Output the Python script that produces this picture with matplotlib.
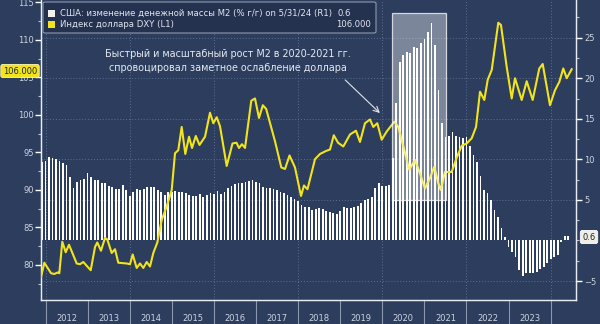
import numpy as np
import matplotlib
matplotlib.use("Agg")
import matplotlib.pyplot as plt
from matplotlib.patches import Rectangle, FancyBboxPatch

# M2 y/y growth, %, monthly, Nov 2011 .. May 2024 (right axis)
m2_yoy = [
    9.73, 9.86, 10.35, 10.15, 10.07, 9.86, 9.53, 9.32, 7.88, 6.52, 7.26, 7.47,
    7.55, 8.29, 7.80, 7.47, 7.47, 7.14, 7.06, 6.77, 6.65, 6.36, 6.36, 6.85,
    6.24, 5.54, 6.03, 6.36, 6.24, 6.36, 6.56, 6.56, 6.56, 6.24, 6.03, 5.62,
    5.95, 5.95, 6.15, 6.03, 5.95, 5.83, 5.62, 5.50, 5.50, 5.71,
    5.41, 5.62, 5.82, 5.70, 6.15, 5.70, 6.03, 6.44, 6.73, 6.93, 7.06, 7.14,
    7.26, 7.39, 7.47, 7.26, 7.06, 6.56, 6.44, 6.52, 6.31, 6.23, 6.03, 5.82,
    5.62, 5.41, 5.12, 4.92,
    4.38, 4.18, 4.10, 3.77, 3.85, 4.05, 3.85, 3.68, 3.56, 3.36, 3.27, 3.64,
    4.10, 3.97, 3.97, 4.10, 4.26, 4.67, 5.00, 5.12, 5.41, 6.44, 7.14, 6.73,
    6.73, 6.85,
    10.15, 16.9, 21.95, 22.9, 23.3, 23.1, 23.9, 23.7, 24.3, 24.8, 25.7, 26.8,
    24.1, 18.6, 14.5,
    12.8, 12.9, 13.4, 12.9, 12.8, 12.6, 12.7, 11.6, 10.55, 9.73, 7.96, 6.23,
    5.82, 5.0, 3.77, 2.86, 1.5, 0.4, -0.84, -1.38, -2.0, -3.64, -4.38, -4.05,
    -3.97, -3.97, -3.85, -3.56, -3.23, -2.82, -2.32, -2.0, -1.79, -0.15, 0.56, 0.56,
]
m2_t = 2011 + (11 + np.arange(len(m2_yoy))) / 12.0

# DXY index (left axis) as (year, value)
dxy_t = [
    2011.893, 2011.972, 2012.131, 2012.209, 2012.290, 2012.328, 2012.399, 2012.480,
    2012.558, 2012.741, 2012.819, 2012.898, 2012.993, 2013.074, 2013.176, 2013.230,
    2013.318, 2013.413, 2013.468, 2013.572, 2013.651, 2013.729, 2013.929, 2014.007,
    2014.071, 2014.166, 2014.245, 2014.323, 2014.404, 2014.482, 2014.561, 2014.656,
    2014.760, 2014.879, 2014.998, 2015.076, 2015.154, 2015.235, 2015.321, 2015.409,
    2015.480, 2015.570, 2015.658, 2015.789, 2015.907, 2015.986, 2016.067, 2016.145,
    2016.304, 2016.442, 2016.537, 2016.596, 2016.667, 2016.739, 2016.888, 2016.976,
    2017.071, 2017.162, 2017.242, 2017.451, 2017.601, 2017.689, 2017.796, 2017.926,
    2018.069, 2018.140, 2018.223, 2018.401, 2018.520, 2018.663, 2018.758, 2018.848,
    2018.948, 2019.074, 2019.233, 2019.375, 2019.470, 2019.589, 2019.708, 2019.786,
    2019.881, 2019.986, 2020.105, 2020.285, 2020.380, 2020.499, 2020.641, 2020.777,
    2020.895, 2021.014, 2021.133, 2021.235, 2021.330, 2021.387, 2021.489, 2021.648,
    2021.767, 2021.886, 2022.005, 2022.124, 2022.226, 2022.321, 2022.423, 2022.504,
    2022.599, 2022.755, 2022.819, 2022.955, 2023.074, 2023.152, 2023.311, 2023.430,
    2023.572, 2023.729, 2023.810, 2023.983, 2024.102, 2024.204, 2024.299, 2024.380,
    2024.499,
]
dxy_v = [
    78.4, 80.3, 78.9, 78.8, 79.0, 78.9, 83.1, 81.7,
    82.7, 80.2, 80.1, 80.4, 79.8, 79.3, 82.4, 83.0,
    81.9, 83.6, 83.4, 81.6, 82.1, 80.3, 80.2, 80.1,
    81.4, 79.6, 80.2, 79.6, 80.4, 79.8, 81.6, 83.0,
    86.0, 87.8, 90.0, 94.9, 95.3, 98.4, 94.8, 97.1,
    95.6, 97.2, 96.0, 97.1, 100.3, 98.9, 99.7, 98.5,
    93.2, 96.2, 96.3, 95.6, 96.1, 95.6, 101.9, 102.2,
    99.6, 101.3, 100.8, 96.5, 93.0, 92.8, 94.6, 93.0,
    89.2, 90.6, 90.1, 94.1, 94.8, 95.2, 95.4, 97.3,
    96.3, 95.8, 97.4, 97.9, 96.4, 98.9, 99.4, 98.4,
    98.9, 96.7, 97.8, 99.1, 98.4, 95.8, 92.7, 94.0,
    92.2, 90.2, 91.6, 93.1, 90.9, 90.0, 92.4, 92.4,
    94.3, 95.9, 96.2, 96.9, 98.4, 103.1, 102.0, 104.7,
    106.0, 112.3, 112.0, 106.4, 102.2, 104.9, 102.0, 104.5,
    102.0, 106.2, 106.8, 101.3, 103.3, 104.4, 106.2, 104.9,
    106.1,
]

years = list(range(2012, 2025))
year_labels = [str(y) for y in range(2012, 2024)]

BG = "#2d3d5e"
TXT = "#cdd4df"
YEL = "#f2e41c"

fig = plt.figure(figsize=(6, 3.24), dpi=100, facecolor=BG)
ax = fig.add_axes([41 / 600, 24 / 324, 535 / 600, 300 / 324])
ax2 = ax.twinx()
ax.set_zorder(2)
ax2.set_zorder(1)
ax.patch.set_visible(False)
ax2.patch.set_visible(False)

# right axis: bars
ax2.set_ylim(-7.34, 29.65)
ax2.set_yticks([-5, 5, 10, 15, 20, 25])
ax2.set_yticks(np.arange(-5, 30, 2.5), minor=True)
ax2.grid(True, axis="y", which="major", color="#5d6f90", ls=(0, (1, 2)), lw=0.7)
ax2.set_axisbelow(True)
for y in range(2012, 2025, 2):
    ax2.axvline(y, color="#5d6f90", ls=(0, (1, 2)), lw=0.7, zorder=0.5)
ax2.bar(m2_t, m2_yoy, width=0.042, color="white", zorder=2)

# left axis: DXY
ax.set_xlim(2011.893, 2024.601)
ax.set_ylim(75.33, 115.33)
ax.set_yticks(range(80, 116, 5))
ax.set_yticks(np.arange(77.5, 115, 2.5), minor=True)
ax.plot(dxy_t, dxy_v, color=YEL, lw=1.5, zorder=3)

# highlight box 2020-2021
ax.add_patch(Rectangle((2020.23, 5.0), 1.28, 23.1, transform=ax2.transData,
                       facecolor=(1, 1, 1, 0.38), edgecolor=(1, 1, 1, 0.75),
                       lw=0.9, zorder=4))

ax.annotate("", xy=(2019.99, 100.0), xytext=(2019.07, 104.93),
            arrowprops=dict(arrowstyle="->", color="#dfe4ec", lw=0.8), zorder=5)
fig.text(228 / 600, 1 - 61 / 324,
         "Быстрый и масштабный рост M2 в 2020-2021 гг.\nспровоцировал заметное ослабление доллара",
         ha="center", va="center", fontsize=6.9, color="#e6eaf0", linespacing=1.5)

# x axis: year separators + centred labels
ax.set_xticks(years)
ax.set_xticklabels([])
ax.set_xticks([y + 0.5 for y in range(2012, 2024)], minor=True)
ax.set_xticklabels(year_labels, minor=True)
ax.tick_params(axis="x", which="major", length=17, width=0.8, color="#8a97ad", direction="out")
ax.tick_params(axis="x", which="minor", length=0, labelsize=6, labelcolor=TXT, pad=10)

ax.tick_params(axis="y", which="major", length=4, width=1, color="white",
               labelsize=6, labelcolor=TXT, pad=1)
ax.tick_params(axis="y", which="minor", length=2, width=0.8, color="#b8c2d2")
ax2.tick_params(axis="y", which="major", length=4, width=1, color="white",
                labelsize=6, labelcolor=TXT, pad=2)
ax2.tick_params(axis="y", which="minor", length=2, width=0.8, color="#b8c2d2")

for a in (ax, ax2):
    a.spines["top"].set_visible(False)
    for s in ("left", "right", "bottom"):
        a.spines[s].set_color("#e8ecf2")
        a.spines[s].set_linewidth(0.9)

# legend
def fx(x):
    return x / 600

def fy(y):
    return 1 - y / 324

fig.add_artist(FancyBboxPatch((fx(43), fy(33)), fx(333), 31 / 324, transform=fig.transFigure,
                              boxstyle="round,pad=0,rounding_size=0.004",
                              facecolor="#243250", edgecolor="#8e99ad", lw=0.8, zorder=6))
fig.add_artist(Rectangle((fx(48), fy(17)), fx(7), 7 / 324, transform=fig.transFigure,
                         facecolor="#f4f1ec", edgecolor="none", zorder=7))
fig.add_artist(Rectangle((fx(48), fy(28)), fx(7), 7 / 324, transform=fig.transFigure,
                         facecolor=YEL, edgecolor="none", zorder=7))
fig.text(fx(60), fy(13.5), "США: изменение денежной массы M2 (% г/г) on 5/31/24 (R1)",
         ha="left", va="center", fontsize=6.1, color="#e2e6ee", zorder=8)
fig.text(fx(60), fy(24.5), "Индекс доллара DXY (L1)",
         ha="left", va="center", fontsize=6.1, color="#e2e6ee", zorder=8)
fig.text(fx(338), fy(13.5), "0.6", ha="left", va="center", fontsize=6.1, color="#e2e6ee", zorder=8)
fig.text(fx(371), fy(24.5), "106.000", ha="right", va="center", fontsize=6.1, color="#e2e6ee", zorder=8)

# last value tags
fig.text(fx(20), fy(71), "106.000", ha="center", va="center", fontsize=6, color="#1c2230",
         bbox=dict(boxstyle="round,pad=0.25", facecolor=YEL, edgecolor="#fff8b0", lw=0.6), zorder=8)
fig.text(fx(589), fy(237), "0.6", ha="center", va="center", fontsize=6, color="#1c2230",
         bbox=dict(boxstyle="round,pad=0.25", facecolor="#f1eee6", edgecolor="white", lw=0.6), zorder=8)

fig.savefig("out.png", dpi=100, facecolor=BG)
